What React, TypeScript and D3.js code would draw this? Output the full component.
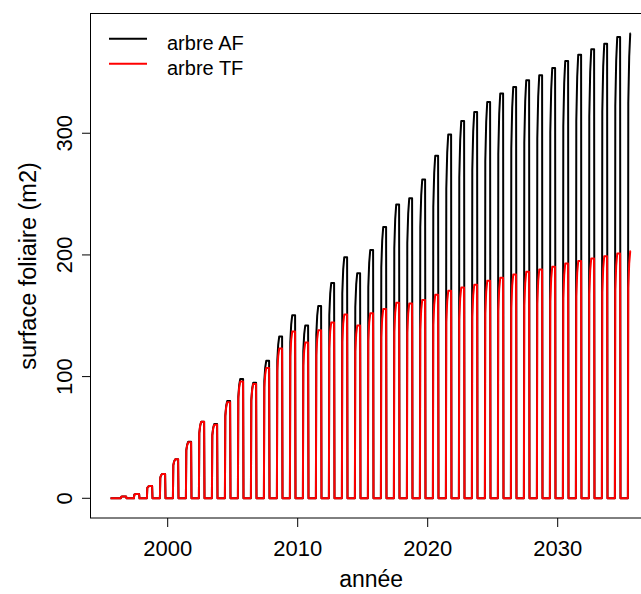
import React from "react";
import * as d3 from "d3";

const WIDTH = 641;
const HEIGHT = 594;

// Years of simulation (one leaf season per year)
const years = [
  1996, 1997, 1998, 1999, 2000, 2001, 2002, 2003, 2004, 2005,
  2006, 2007, 2008, 2009, 2010, 2011, 2012, 2013, 2014, 2015,
  2016, 2017, 2018, 2019, 2020, 2021, 2022, 2023, 2024, 2025,
  2026, 2027, 2028, 2029, 2030, 2031, 2032, 2033, 2034, 2035,
];

// Annual maximum leaf area (m2), agroforestry tree
const peakAF = [
  1.5, 3.5, 10, 20, 32, 46.5, 63, 61, 80, 98,
  95, 113, 133, 150.5, 142, 158, 177, 198, 185, 204,
  223, 241.5, 246.5, 262, 281.5, 299, 310, 317.5, 325.7, 332.6,
  338, 343.5, 347.6, 353.6, 359.4, 364.6, 369, 373.6, 379, 382,
];

// Annual maximum leaf area (m2), forestry tree
const peakTF = [
  1.5, 3.5, 10, 20, 32, 46, 63, 60.5, 79, 96,
  94, 107, 123, 137, 128, 138, 144.5, 151, 142, 152,
  155.5, 160.6, 160, 163, 167.3, 170.5, 173.2, 175.5, 178.7, 181.2,
  183.9, 186.1, 188, 190.2, 193, 195.1, 197.1, 199, 201.2, 203.1,
];

// Seasonal shape: fraction of the year -> fraction of the annual maximum
const seasonTime = [0.4, 0.43, 0.5, 0.58, 0.62, 0.8, 0.83];
const seasonFrac = [0, 0.85, 0.95, 1, 1, 1, 0];

const seriesStart = 1995.6;
const seriesEnd = 2035.62;

const xTicks = [2000, 2010, 2020, 2030];
const yTicks = [0, 100, 200, 300];

const seriesNames = ["arbre AF", "arbre TF"];
const seriesColors = ["#000000", "#ff0000"];

const FONT = "'Liberation Sans', Arial, Helvetica, sans-serif";

function buildSeries(peaks: number[]): [number, number][] {
  const pts: [number, number][] = [[seriesStart, 0]];
  years.forEach((yr, i) => {
    seasonTime.forEach((s, k) => {
      const t = yr + s;
      if (t <= seriesEnd + 1e-9) pts.push([t, peaks[i] * seasonFrac[k]]);
    });
  });
  return pts;
}

export default function App() {
  const left = 91;
  const right = 651.3;
  const top = 14;
  const bottom = 518;

  const x = d3.scaleLinear().domain([1994.1, 2037.2]).range([left, right]);
  const y = d3.scaleLinear().domain([-16.2, 398]).range([bottom, top]);

  const line = d3
    .line<[number, number]>()
    .x((d) => x(d[0]))
    .y((d) => y(d[1]));

  const dataAF = buildSeries(peakAF);
  const dataTF = buildSeries(peakTF);

  const legendY = [38.7, 63.7];

  return (
    <svg
      width={WIDTH}
      height={HEIGHT}
      viewBox={`0 0 ${WIDTH} ${HEIGHT}`}
      style={{ position: "absolute", left: 0, top: 0, background: "#fff" }}
      fontFamily={FONT}
    >
      <rect x={0} y={0} width={WIDTH} height={HEIGHT} fill="#fff" />

      {/* series */}
      <path
        d={line(dataAF) || ""}
        fill="none"
        stroke={seriesColors[0]}
        strokeWidth={2}
        strokeLinejoin="round"
      />
      <path
        d={line(dataTF) || ""}
        fill="none"
        stroke={seriesColors[1]}
        strokeWidth={2}
        strokeLinejoin="round"
      />

      {/* plot frame */}
      <rect
        x={left - 0.5}
        y={top - 0.5}
        width={right - left + 1}
        height={bottom - top + 0.5}
        fill="none"
        stroke="#000"
        strokeWidth={1}
      />

      {/* x axis */}
      {xTicks.map((t) => (
        <g key={t}>
          <line x1={x(t)} x2={x(t)} y1={bottom} y2={bottom + 9} stroke="#000" strokeWidth={1} />
          <text x={x(t)} y={556} textAnchor="middle" fontSize={22} fill="#000">
            {t}
          </text>
        </g>
      ))}
      <text x={(left + right) / 2} y={587} textAnchor="middle" fontSize={23} fill="#000">
        année
      </text>

      {/* y axis */}
      {yTicks.map((t) => (
        <g key={t}>
          <line x1={left - 9} x2={left} y1={y(t)} y2={y(t)} stroke="#000" strokeWidth={1} />
          <text
            transform={`translate(72, ${y(t)}) rotate(-90)`}
            textAnchor="middle"
            fontSize={22}
            fill="#000"
          >
            {t}
          </text>
        </g>
      ))}
      <text
        transform={`translate(36, ${(top + bottom) / 2}) rotate(-90)`}
        textAnchor="middle"
        fontSize={23.5}
        fill="#000"
      >
        surface foliaire (m2)
      </text>

      {/* legend */}
      {seriesNames.map((name, i) => (
        <g key={name}>
          <line
            x1={109}
            x2={147}
            y1={legendY[i]}
            y2={legendY[i]}
            stroke={seriesColors[i]}
            strokeWidth={2}
          />
          <text x={167} y={legendY[i] + 11} fontSize={20} fill="#000">
            {name}
          </text>
        </g>
      ))}
    </svg>
  );
}
